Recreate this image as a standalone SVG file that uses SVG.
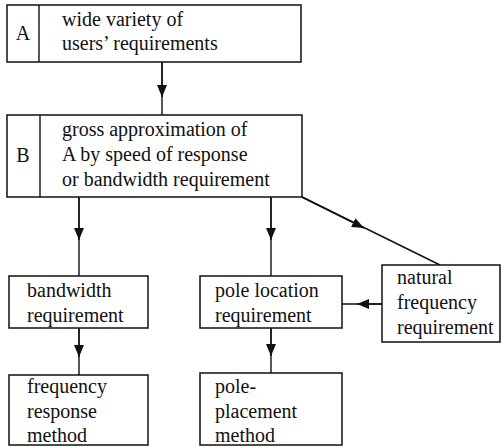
<svg xmlns="http://www.w3.org/2000/svg" width="501" height="447" viewBox="0 0 501 447">
<style>
.box{fill:#fff;stroke:#111;stroke-width:1.5}
.t{font-family:"Liberation Serif","Times New Roman",serif;font-size:20px;fill:#111}
.c{fill:none;stroke:#111;stroke-width:1.4}
</style>
<defs>
<marker id="ah" viewBox="0 0 12 10" refX="12" refY="5" markerWidth="12" markerHeight="10" markerUnits="userSpaceOnUse" orient="auto">
<path d="M0,0 L12,5 L0,10 Z" fill="#111"/>
</marker>
</defs>
<rect width="501" height="447" fill="#fff"/>
<g id="connectors">
<line class="c" x1="162" y1="62" x2="162" y2="115"/>
<line class="c" x1="162" y1="62" x2="162" y2="97" marker-end="url(#ah)"/>
<line class="c" x1="79" y1="197" x2="79" y2="276"/>
<line class="c" x1="79" y1="197" x2="79" y2="240" marker-end="url(#ah)"/>
<line class="c" x1="271" y1="197" x2="271" y2="276"/>
<line class="c" x1="271" y1="197" x2="271" y2="240" marker-end="url(#ah)"/>
<line class="c" x1="302" y1="197" x2="440" y2="265"/>
<line class="c" x1="302" y1="197" x2="364" y2="228" marker-end="url(#ah)"/>
<line class="c" x1="79" y1="328" x2="79" y2="375"/>
<line class="c" x1="79" y1="328" x2="79" y2="357" marker-end="url(#ah)"/>
<line class="c" x1="271" y1="328" x2="271" y2="373"/>
<line class="c" x1="271" y1="328" x2="271" y2="356" marker-end="url(#ah)"/>
<line class="c" x1="382" y1="304" x2="342" y2="304"/>
<line class="c" x1="382" y1="304" x2="357" y2="304" marker-end="url(#ah)"/>
</g>
<g id="nodeA">
<rect class="box" x="7" y="5" width="294" height="57"/>
<line class="c" x1="39" y1="5" x2="39" y2="62"/>
<text class="t" x="23" y="40" text-anchor="middle">A</text>
<text class="t" x="62" y="26">wide variety of</text>
<text class="t" x="62" y="50">users’ requirements</text>
</g>
<g id="nodeB">
<rect class="box" x="7" y="115" width="295" height="82"/>
<line class="c" x1="40" y1="115" x2="40" y2="197"/>
<text class="t" x="23" y="162" text-anchor="middle">B</text>
<text class="t" x="62" y="136">gross approximation of</text>
<text class="t" x="62" y="161">A by speed of response</text>
<text class="t" x="62" y="186">or bandwidth requirement</text>
</g>
<g id="bandwidth">
<rect class="box" x="9" y="276" width="139" height="52"/>
<text class="t" x="27" y="297">bandwidth</text>
<text class="t" x="27" y="322">requirement</text>
</g>
<g id="poleLocation">
<rect class="box" x="200" y="276" width="142" height="52"/>
<text class="t" x="215" y="297">pole location</text>
<text class="t" x="215" y="322">requirement</text>
</g>
<g id="natural">
<rect class="box" x="382" y="265" width="118" height="77"/>
<text class="t" x="397" y="284">natural</text>
<text class="t" x="397" y="309">frequency</text>
<text class="t" x="397" y="334">requirement</text>
</g>
<g id="frequencyResponse">
<rect class="box" x="9" y="375" width="139" height="70"/>
<text class="t" x="27" y="393">frequency</text>
<text class="t" x="27" y="418">response</text>
<text class="t" x="27" y="442">method</text>
</g>
<g id="polePlacement">
<rect class="box" x="200" y="373" width="142" height="72"/>
<text class="t" x="215" y="393">pole-</text>
<text class="t" x="215" y="418">placement</text>
<text class="t" x="215" y="442">method</text>
</g>
</svg>
